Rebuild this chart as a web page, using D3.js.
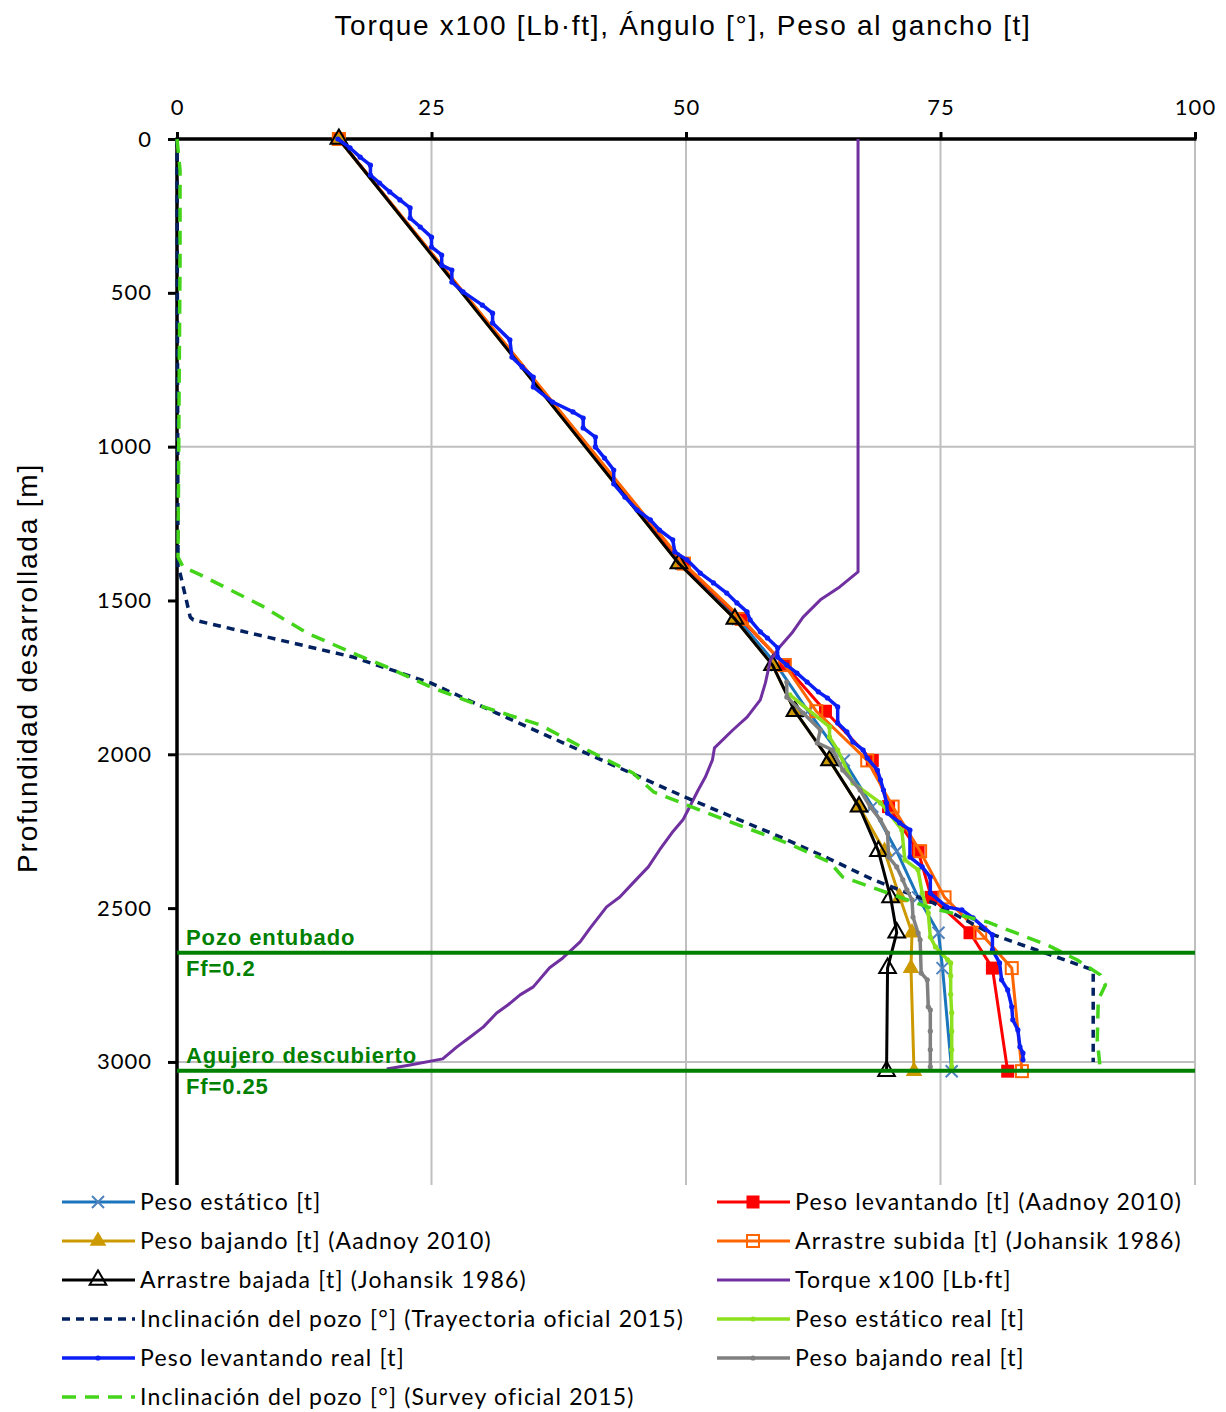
<!DOCTYPE html>
<html>
<head>
<meta charset="utf-8">
<script src="https://cdn.jsdelivr.net/npm/d3@7"></script>
<style>
  body { margin: 0; background: #fff; }
  svg { display: block; }
</style>
</head>
<body>
<script>
// model depths (m) shared by the computed series
var modelDepth = [0, 1380, 1560, 1710, 1860, 2020, 2170, 2315, 2465, 2580, 2695, 3030];
var pesoEstatico   = [15.9, 49.5, 55.1, 58.9, 62.0, 65.5, 68.3, 70.7, 72.8, 74.8, 75.2, 76.1];
var pesoLevantando = [15.9, 49.7, 55.4, 59.7, 63.7, 68.3, 69.9, 72.8, 74.1, 77.9, 80.1, 81.6];
var pesoBajando    = [15.9, 49.3, 54.8, 58.5, 60.7, 64.1, 67.0, 69.5, 71.0, 72.2, 72.1, 72.4];
var arrastreSubida = [15.9, 49.8, 55.5, 59.7, 62.8, 67.8, 70.3, 73.0, 75.4, 78.9, 82.0, 83.0];
var arrastreBajada = [15.9, 49.3, 54.8, 58.5, 60.7, 64.1, 67.0, 68.9, 70.1, 70.7, 69.8, 69.7];

// [depth, value] pairs
var torque = [[0,66.9],[1407,66.9],[1456,65.1],[1498,63.2],[1554,61.5],[1606,60.4],[1651,59.2],[1693,58.3],
  [1768,57.8],[1823,57.3],[1879,56.0],[1921,54.6],[1979,52.8],[2018,52.6],[2074,51.9],[2116,51.2],[2181,50.2],
  [2213,49.7],[2256,48.6],[2311,47.4],[2366,46.3],[2418,44.8],[2464,43.5],[2496,42.2],[2564,40.6],[2610,39.6],
  [2662,37.9],[2694,36.6],[2756,35.0],[2782,33.7],[2815,32.5],[2841,31.4],[2886,30.1],[2919,28.8],[2951,27.5],
  [2990,26.1],[3010,22.9],[3023,20.6]];

var inclTrayectoria = [[0,0],[1391,0.1],[1411,0.3],[1554,1.3],[1563,1.6],[1684,17.3],[1768,24.9],[1866,31.4],
  [1992,39.9],[2142,50.1],[2272,59.5],[2337,63.9],[2408,68.4],[2483,74.3],[2587,80.2],[2652,85.8],[2701,90.0],[3000,90.0]];

var inclSurvey = [[0,0],[101,0.3],[400,0.3],[848,0.2],[1359,0.1],[1391,0.6],[1417,2.3],[1515,8.2],[1606,12.8],
  [1677,17.7],[1716,20.6],[1784,25.1],[1846,30.1],[1905,35.7],[1986,40.3],[2061,44.8],[2122,46.8],[2165,50.1],
  [2223,54.6],[2288,59.9],[2350,64.1],[2399,65.4],[2434,68.4],[2496,73.7],[2545,79.6],[2620,85.5],[2668,88.4],
  [2717,90.7],[2750,91.2],[2798,90.5],[2928,90.4],[3026,90.7]];

var pesoEstaticoReal = [[1807,60.2],[1911,64.1],[1944,64.1],[1986,64.9],[2093,66.4],[2158,69.1],[2181,69.7],
  [2246,71.2],[2343,71.5],[2376,72.8],[2451,73.2],[2516,73.8],[2594,74.0],[2626,74.5],[2668,75.7],[2678,76.0],
  [2720,76.0],[2780,76.0],[2840,76.1],[2900,76.1],[2960,76.1],[3016,76.1]];

var pesoLevantandoReal = [[0,15.8],[29,17.0],[59,18.0],[85,19.0],[117,19.0],[143,19.9],[172,20.9],[198,21.9],
  [224,22.9],[257,22.9],[286,23.9],[319,25.0],[351,25.0],[377,26.0],[410,26.0],[426,27.0],[465,27.0],[497,28.1],
  [540,30.0],[566,31.0],[598,31.0],[653,32.7],[709,32.9],[741,33.9],[774,35.0],[806,35.0],[855,36.9],[887,38.9],
  [907,39.9],[939,39.9],[969,41.1],[1001,41.1],[1037,42.0],[1076,42.9],[1121,42.9],[1164,44.0],[1206,45.2],
  [1238,46.5],[1271,47.4],[1303,48.7],[1342,48.9],[1368,50.1],[1411,51.4],[1443,52.7],[1476,54.0],[1508,55.0],
  [1537,56.0],[1563,56.3],[1602,57.3],[1622,58.0],[1654,59.0],[1684,59.0],[1710,59.9],[1736,60.9],[1765,61.9],
  [1797,63.0],[1817,63.9],[1846,64.9],[1898,64.9],[1927,65.8],[1960,66.4],[1986,67.4],[2012,67.8],[2051,68.8],
  [2083,69.1],[2116,69.4],[2158,69.7],[2191,69.8],[2223,71.0],[2246,72.0],[2334,72.0],[2366,73.2],[2399,74.0],
  [2451,74.0],[2496,75.6],[2506,77.1],[2532,78.2],[2587,80.1],[2636,80.1],[2678,80.8],[2733,81.0],[2766,81.6],
  [2821,82.0],[2863,82.1],[2896,82.6],[2951,82.8],[2971,83.1],[2993,83.1]];

var pesoBajandoReal = [[1765,59.9],[1814,59.9],[1866,61.5],[1921,63.2],[1963,62.9],[1986,64.4],[2051,65.4],
  [2116,67.1],[2171,68.1],[2213,69.1],[2256,69.8],[2334,69.9],[2366,70.7],[2408,71.3],[2441,71.7],[2473,72.2],
  [2529,72.3],[2581,72.8],[2603,73.0],[2711,73.1],[2733,73.7],[2821,73.8],[2831,74.0],[2900,74.0],[2960,74.0],[3016,74.0]];

var xTicks = [0, 25, 50, 75, 100];
var yTicks = [0, 500, 1000, 1500, 2000, 2500, 3000];
var yGrid = [1000, 2000, 3000];
var zonas = [
  {depth: 2645, top: "Pozo entubado", bottom: "Ff=0.2"},
  {depth: 3029, top: "Agujero descubierto", bottom: "Ff=0.25"}
];

function zip(vals) { return modelDepth.map(function(d, i) { return [d, vals[i]]; }); }

// series definitions in the order Excel drew them
var series = [
  {name: "Peso estático [t]", data: zip(pesoEstatico), color: "#1B75BC", width: 3, marker: "x", mcolor: "#4F81BD"},
  {name: "Peso levantando [t] (Aadnoy 2010)", data: zip(pesoLevantando), color: "#FF0000", width: 3, marker: "square"},
  {name: "Peso bajando [t] (Aadnoy 2010)", data: zip(pesoBajando), color: "#CC9900", width: 3, marker: "triangle"},
  {name: "Arrastre subida [t] (Johansik 1986)", data: zip(arrastreSubida), color: "#FF6600", width: 3, marker: "osquare"},
  {name: "Arrastre bajada [t] (Johansik 1986)", data: zip(arrastreBajada), color: "#000000", width: 3, marker: "otriangle"},
  {name: "Torque x100 [Lb·ft]", data: torque, color: "#7030A0", width: 3},
  {name: "Inclinación del pozo [°] (Trayectoria oficial 2015)", data: inclTrayectoria, color: "#002060", width: 3.5, dash: "8,6"},
  {name: "Peso estático real [t]", data: pesoEstaticoReal, color: "#8CE01E", width: 3.5, marker: "dot"},
  {name: "Peso levantando real [t]", data: pesoLevantandoReal, color: "#0A1EF5", width: 3.5, marker: "dot"},
  {name: "Peso bajando real [t]", data: pesoBajandoReal, color: "#808080", width: 3.5, marker: "dot"},
  {name: "Inclinación del pozo [°] (Survey oficial 2015)", data: inclSurvey, color: "#44D41A", width: 3.5, dash: "14,9"}
];

var width = 1226, height = 1412;
var svg = d3.select("body").append("svg").attr("width", width).attr("height", height);

var x = d3.scaleLinear().domain([0, 100]).range([177, 1195]);
var y = d3.scaleLinear().domain([0, 3400]).range([139, 1185]);

// gridlines
svg.append("g").selectAll("line.vg").data(xTicks.slice(1)).enter().append("line")
  .attr("x1", function(d) { return x(d); }).attr("x2", function(d) { return x(d); })
  .attr("y1", y(0)).attr("y2", y(3400))
  .attr("stroke", "#BFBFBF").attr("stroke-width", 2);
svg.append("g").selectAll("line.hg").data(yGrid).enter().append("line")
  .attr("x1", x(0)).attr("x2", x(100))
  .attr("y1", function(d) { return y(d); }).attr("y2", function(d) { return y(d); })
  .attr("stroke", "#BFBFBF").attr("stroke-width", 2);

// axes
var topAxis = svg.append("g").attr("transform", "translate(0," + y(0) + ")")
  .call(d3.axisTop(x).tickValues(xTicks).tickSize(7).tickPadding(17).tickFormat(d3.format("d")));
var leftAxis = svg.append("g").attr("transform", "translate(" + x(0) + ",0)")
  .call(d3.axisLeft(y).tickValues(yTicks).tickSize(9).tickPadding(16).tickFormat(d3.format("d")));
[topAxis, leftAxis].forEach(function(a) {
  a.select(".domain").remove();
  a.selectAll(".tick line").attr("stroke", "#000").attr("stroke-width", 3);
  a.selectAll(".tick text").attr("font-family", "Lato, sans-serif").attr("font-size", 22)
    .attr("letter-spacing", 1).attr("fill", "#000");
});
svg.append("line").attr("x1", x(0) - 1.5).attr("x2", x(100) + 1.5).attr("y1", y(0)).attr("y2", y(0))
  .attr("stroke", "#000").attr("stroke-width", 3.5);
svg.append("line").attr("x1", x(0)).attr("x2", x(0)).attr("y1", y(0)).attr("y2", y(3400))
  .attr("stroke", "#000").attr("stroke-width", 3.5);

// titles
svg.append("text").attr("x", 683).attr("y", 35).attr("text-anchor", "middle")
  .attr("font-family", "Liberation Sans, Arial, sans-serif").attr("font-size", 28).attr("letter-spacing", 1.7)
  .text("Torque x100 [Lb·ft], Ángulo [°], Peso al gancho [t]");
svg.append("text").attr("transform", "translate(37,668) rotate(-90)").attr("text-anchor", "middle")
  .attr("font-family", "Liberation Sans, Arial, sans-serif").attr("font-size", 28).attr("letter-spacing", 1.8)
  .text("Profundidad desarrollada [m]");

var line = d3.line().x(function(d) { return x(d[1]); }).y(function(d) { return y(d[0]); });

function drawMarker(g, type, cx, cy, s) {
  if (type === "square") {
    g.append("rect").attr("x", cx - 6.5).attr("y", cy - 6.5).attr("width", 13).attr("height", 13).attr("fill", s.color);
  } else if (type === "osquare") {
    g.append("rect").attr("x", cx - 6).attr("y", cy - 6).attr("width", 12).attr("height", 12)
      .attr("fill", "none").attr("stroke", s.color).attr("stroke-width", 2);
  } else if (type === "triangle") {
    g.append("path").attr("d", d3.symbol().type(d3.symbolTriangle).size(120)())
      .attr("transform", "translate(" + cx + "," + cy + ")").attr("fill", s.color);
  } else if (type === "otriangle") {
    g.append("path").attr("d", d3.symbol().type(d3.symbolTriangle).size(120)())
      .attr("transform", "translate(" + cx + "," + cy + ")").attr("fill", "none")
      .attr("stroke", s.color).attr("stroke-width", 2);
  } else if (type === "x") {
    g.append("path").attr("d", "M-6,-6L6,6M-6,6L6,-6").attr("transform", "translate(" + cx + "," + cy + ")")
      .attr("stroke", s.mcolor).attr("stroke-width", 2).attr("fill", "none");
  } else if (type === "dot") {
    g.append("circle").attr("cx", cx).attr("cy", cy).attr("r", 2.6).attr("fill", s.color);
  }
}

// zone lines
var zg = svg.append("g");

series.forEach(function(s) {
  var g = svg.append("g");
  g.append("path").datum(s.data).attr("d", line).attr("fill", "none")
    .attr("stroke", s.color).attr("stroke-width", s.width)
    .attr("stroke-dasharray", s.dash || null).attr("stroke-linejoin", "round");
  if (s.marker) {
    s.data.forEach(function(d) { drawMarker(g, s.marker, x(d[1]), y(d[0]), s); });
  }
});

zonas.forEach(function(z) {
  zg.append("line").attr("x1", x(0)).attr("x2", x(100)).attr("y1", y(z.depth)).attr("y2", y(z.depth))
    .attr("stroke", "#008000").attr("stroke-width", 4);
  zg.append("text").attr("x", 186).attr("y", y(z.depth) - 8).text(z.top);
  zg.append("text").attr("x", 186).attr("y", y(z.depth) + 23).text(z.bottom);
});
zg.raise();
zg.selectAll("text").attr("font-family", "Liberation Sans, Arial, sans-serif").attr("font-weight", "bold")
  .attr("font-size", 22).attr("letter-spacing", 0.9).attr("fill", "#008000");

// legend
var legendOrder = [0, 2, 4, 6, 8, 10, 1, 3, 5, 7, 9];
legendOrder.forEach(function(idx, k) {
  var s = series[idx];
  var col = k < 6 ? 0 : 1;
  var row = k < 6 ? k : k - 6;
  var lx = col === 0 ? 62 : 717;
  var ly = 1202 + row * 39;
  var g = svg.append("g");
  g.append("line").attr("x1", lx).attr("x2", lx + 73).attr("y1", ly).attr("y2", ly)
    .attr("stroke", s.color).attr("stroke-width", s.width).attr("stroke-dasharray", s.dash || null);
  if (s.marker) drawMarker(g, s.marker, lx + 36, ly, s);
  g.append("text").attr("x", lx + 78).attr("y", ly).attr("dy", "0.35em")
    .attr("font-family", "Lato, sans-serif").attr("font-size", 23).attr("letter-spacing", 1.2).attr("fill", "#000")
    .text(s.name);
});
</script>
</body>
</html>
